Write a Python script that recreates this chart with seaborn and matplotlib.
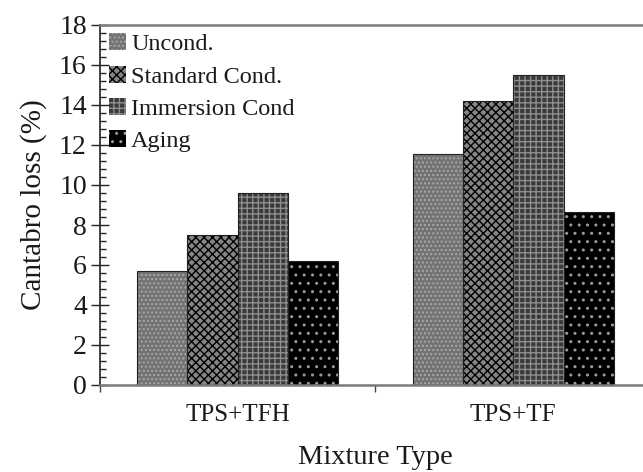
import matplotlib
matplotlib.use("Agg")
import matplotlib.pyplot as plt
from matplotlib.patches import Patch, Rectangle
import seaborn as sns
import pandas as pd

mixtures = ["TPS+TFH", "TPS+TF"]
conditions = ["Uncond.", "Standard Cond.", "Immersion Cond", "Aging"]
uncond = [5.72, 11.53]
standard = [7.52, 14.2]
immersion = [9.58, 15.5]
aging = [6.22, 8.64]

y_ticks = [0, 2, 4, 6, 8, 10, 12, 14, 16, 18]

rows = []
for cond, vals in zip(conditions, [uncond, standard, immersion, aging]):
    for m, v in zip(mixtures, vals):
        rows.append({"Mixture Type": m, "Condition": cond, "loss": v})
df = pd.DataFrame(rows)

sns.set_theme(style="white")
plt.rcParams["font.family"] = ["Liberation Serif", "DejaVu Serif"]
plt.rcParams["hatch.linewidth"] = 1.0

faces = ["#737373", "#858585", "#3a3a3a", "#000000"]
hatch_cols = ["#a8a8a8", "#000000", "#8e8e8e", "#9a9a9a"]
hatches = ["....", "xxxx", "+++", ".."]

fig = plt.figure(figsize=(6.43, 4.72), dpi=100)
ax = fig.add_axes([100 / 643, 1 - 385 / 472, (651 - 100) / 643, (385 - 25) / 472])

sns.barplot(data=df, x="Mixture Type", y="loss", hue="Condition",
            hue_order=conditions, order=mixtures, palette=faces,
            saturation=1, width=0.73, gap=0, linewidth=0, ax=ax, legend=False)

for cont, fc, hc, h in zip(ax.containers, faces, hatch_cols, hatches):
    for p in cont.patches:
        p.set_facecolor(fc)
        p.set_edgecolor(hc)
        p.set_hatch(h)
        p.set_linewidth(0)
        bb = p.get_bbox()
        ax.add_patch(Rectangle((bb.x0, bb.y0), bb.width, bb.height,
                               fill=False, edgecolor="#222222", linewidth=0.8, zorder=p.get_zorder() + 0.1))

ax.set_xlim(-0.5, 1.5)
ax.set_ylim(0, 18)
ax.set_yticks(y_ticks)
ax.set_yticks([i * 0.4 for i in range(46)], minor=True)
ax.set_xticks([0, 1])
ax.set_xticklabels(mixtures)
ax.set_xticks([-0.5, 0.5, 1.5], minor=True)

ax.tick_params(axis="y", which="major", direction="inout", length=13, width=1,
               color="#222222", labelsize=20, labelcolor="#1a1a1a", pad=3, left=True)
ax.tick_params(axis="y", which="minor", direction="in", length=4.5, width=1,
               color="#222222", left=True)
ax.tick_params(axis="x", which="major", length=0, labelsize=18, labelcolor="#1a1a1a", pad=14)
ax.tick_params(axis="x", which="minor", direction="out", length=5, width=1,
               color="#444444", bottom=True)

ax.set_ylabel("Cantabro loss (%)", fontsize=21, color="#1a1a1a", labelpad=9)
ax.set_xlabel("Mixture Type", fontsize=20.5, color="#1a1a1a", labelpad=13)

for s in ["top", "bottom"]:
    ax.spines[s].set_color("#7a7a7a")
    ax.spines[s].set_linewidth(1.8)
ax.spines["left"].set_color("#222222")
ax.spines["left"].set_linewidth(1.2)
ax.spines["right"].set_visible(False)

handles = [Patch(facecolor=fc, edgecolor=hc, hatch=h, linewidth=0)
           for fc, hc, h in zip(faces, hatch_cols, hatches)]
leg = ax.legend(handles, conditions, loc="upper left", bbox_to_anchor=(0.008, 0.99),
                frameon=False, fontsize=17.5, handlelength=0.7, handleheight=0.7,
                handletextpad=0.2, labelspacing=0.42, borderaxespad=0, borderpad=0.2)
for t in leg.get_texts():
    t.set_color("#1a1a1a")

fig.savefig("out.png", dpi=100)
